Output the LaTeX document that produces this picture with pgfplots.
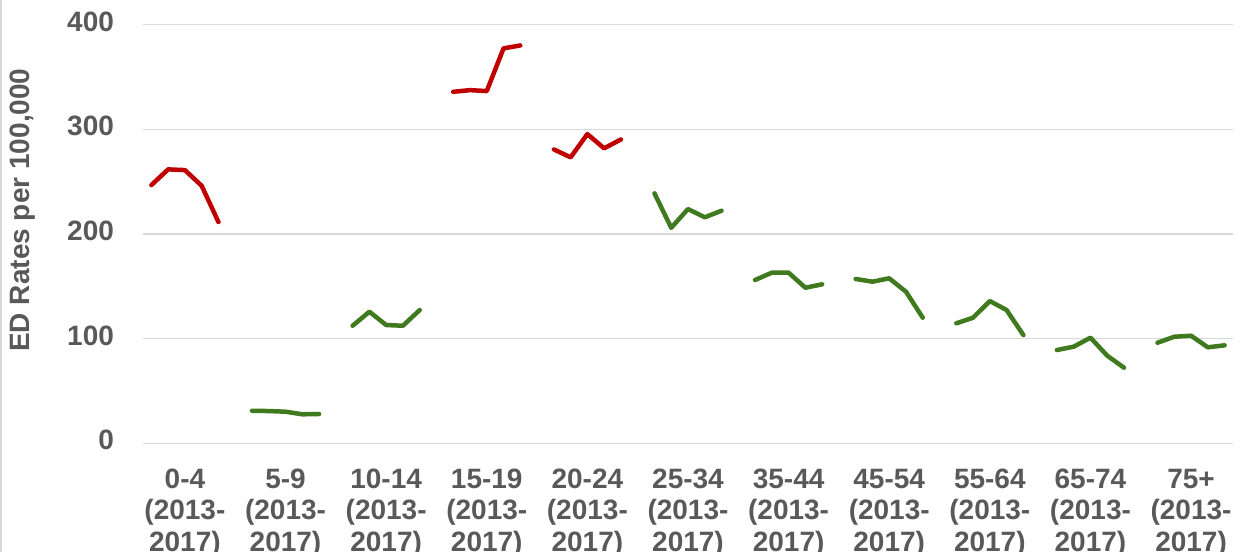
\documentclass[border=0pt]{standalone}
\usepackage{pgfplots}
\pgfplotsset{compat=1.18}
\usepackage{fontspec}
\setmainfont{Liberation Sans}
\definecolor{txtgray}{RGB}{89,89,89}
\definecolor{gridgray}{RGB}{217,217,217}
\definecolor{myred}{RGB}{192,0,0}
\definecolor{mygreen}{RGB}{64,122,30}
\begin{document}
\begin{tikzpicture}
\path[use as bounding box] (-71.5pt,-54.35pt) rectangle (550.5pt,221.65pt);
\draw[gridgray, line width=1pt] (-71pt,-54.35pt) -- (-71pt,221.65pt);
\begin{axis}[
  at={(0,0)}, anchor=south west,
  scale only axis, width=545pt, height=209.35pt,
  xmin=-0.5, xmax=64.5, ymin=0, ymax=400,
  axis line style={draw=none},
  major tick length=0pt,
  ymajorgrids, grid style={color=gridgray, line width=0.75pt},
  ytick={0,100,200,300,400},
  xtick={2,8,14,20,26,32,38,44,50,56,62},
  xticklabels={{0-4\\(2013-\\2017)},{5-9\\(2013-\\2017)},{10-14\\(2013-\\2017)},{15-19\\(2013-\\2017)},{20-24\\(2013-\\2017)},{25-34\\(2013-\\2017)},{35-44\\(2013-\\2017)},{45-54\\(2013-\\2017)},{55-64\\(2013-\\2017)},{65-74\\(2013-\\2017)},{75+\\(2013-\\2017)}},
  /pgf/number format/assume math mode=true,
  tick label style={font=\fontsize{14}{15.75}\selectfont\bfseries, text=txtgray},
  xticklabel style={align=center, yshift=-9.2pt},
  yticklabel style={xshift=-11pt, yshift=1.5pt},
  ylabel={ED Rates per 100,000},
  every axis y label/.style={at={(axis description cs:-0.11,0.557)}, rotate=90, anchor=center, font=\fontsize{14}{16}\selectfont\bfseries, text=txtgray},
  clip=false,
  every axis plot/.append style={line width=2.25pt, line cap=round, line join=round, mark=none},
]
% 0-4
\addplot[myred] coordinates {(0,246.7) (1,261.7) (2,261.0) (3,246.0) (4,211.4)};
% 5-9
\addplot[mygreen] coordinates {(6,31.1) (7,30.8) (8,30.2) (9,27.7) (10,28.0)};
% 10-14
\addplot[mygreen] coordinates {(12,112.3) (13,125.7) (14,113.0) (15,112.3) (16,127.3)};
% 15-19
\addplot[myred] coordinates {(18,335.8) (19,337.4) (20,336.5) (21,377.3) (22,380.1)};
% 20-24
\addplot[myred] coordinates {(24,280.8) (25,273.2) (26,295.4) (27,281.8) (28,290.3)};
% 25-34
\addplot[mygreen] coordinates {(30,238.8) (31,205.9) (32,223.8) (33,215.9) (34,222.2)};
% 35-44
\addplot[mygreen] coordinates {(36,156.0) (37,163.0) (38,163.0) (39,148.6) (40,151.9)};
% 45-54
\addplot[mygreen] coordinates {(42,157.0) (43,154.4) (44,157.6) (45,144.8) (46,120.0)};
% 55-64
\addplot[mygreen] coordinates {(48,114.6) (49,120.0) (50,135.9) (51,127.3) (52,103.4)};
% 65-74
\addplot[mygreen] coordinates {(54,89.1) (55,92.3) (56,100.9) (57,83.7) (58,72.2)};
% 75+
\addplot[mygreen] coordinates {(60,96.1) (61,101.8) (62,102.8) (63,91.7) (64,93.6)};
\end{axis}
\end{tikzpicture}
\end{document}
